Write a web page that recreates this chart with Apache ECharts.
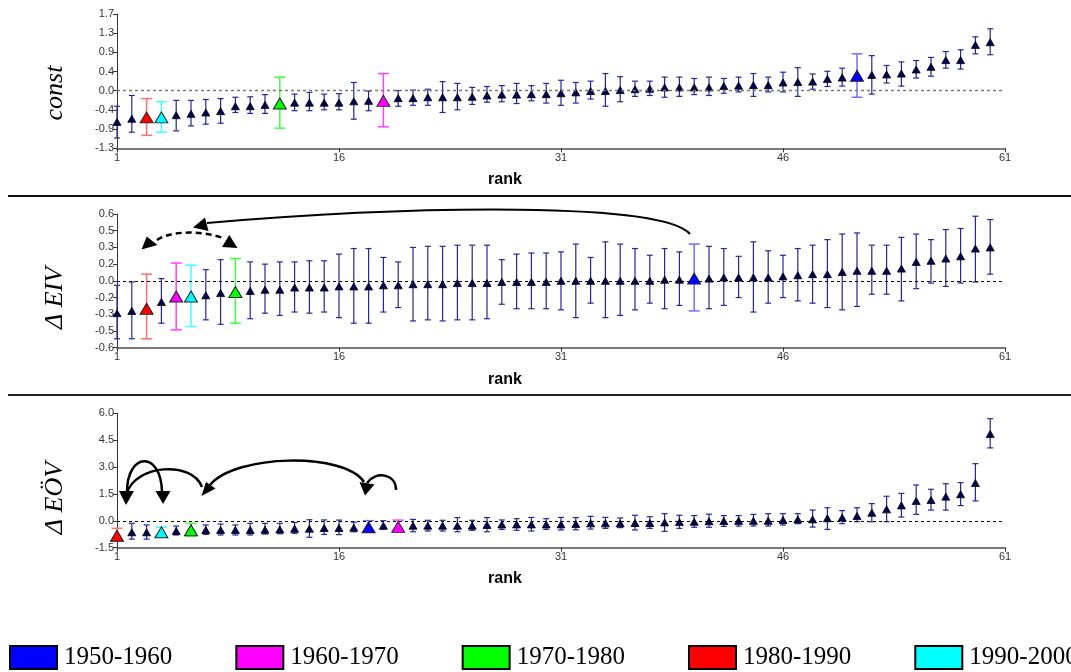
<!DOCTYPE html>
<html><head><meta charset="utf-8">
<script src="https://cdn.jsdelivr.net/npm/echarts@6/dist/echarts.min.js"></script>
<style>html,body{margin:0;padding:0;background:#fff}#c{width:1071px;height:672px}</style>
</head><body><div id="c"></div>
<script>
// ---------- data ----------
const ranks = [1,2,3,4,5,6,7,8,9,10,11,12,13,14,15,16,17,18,19,20,21,22,23,24,25,26,27,28,29,30,
  31,32,33,34,35,36,37,38,39,40,41,42,43,44,45,46,47,48,49,50,51,52,53,54,55,56,57,58,59,60];

const constMean = [-0.71,-0.64,-0.61,-0.61,-0.56,-0.53,-0.50,-0.47,-0.36,-0.36,-0.33,-0.30,-0.28,-0.28,-0.28,-0.28,-0.25,-0.24,-0.24,-0.18,
  -0.18,-0.16,-0.16,-0.16,-0.15,-0.12,-0.10,-0.10,-0.09,-0.09,-0.07,-0.05,-0.02,-0.02,0.00,0.02,0.03,0.06,0.06,0.06,
  0.06,0.09,0.10,0.11,0.11,0.17,0.18,0.19,0.25,0.28,0.32,0.34,0.35,0.37,0.46,0.52,0.67,0.67,1.01,1.07];
const constHigh = [-0.36,-0.12,-0.19,-0.26,-0.23,-0.23,-0.21,-0.19,-0.16,-0.15,-0.10,0.29,-0.09,-0.05,-0.09,-0.08,0.17,-0.02,0.37,-0.01,
  0.00,0.02,0.19,0.15,0.06,0.08,0.10,0.15,0.10,0.15,0.22,0.17,0.20,0.37,0.30,0.20,0.20,0.29,0.29,0.26,
  0.29,0.26,0.29,0.37,0.29,0.40,0.50,0.36,0.42,0.49,0.81,0.77,0.55,0.63,0.66,0.73,0.86,0.90,1.19,1.37];
const constLow = [-1.07,-0.94,-1.01,-0.94,-0.91,-0.80,-0.76,-0.74,-0.50,-0.52,-0.52,-0.85,-0.46,-0.46,-0.44,-0.44,-0.65,-0.46,-0.82,-0.36,
  -0.34,-0.34,-0.50,-0.44,-0.32,-0.27,-0.26,-0.30,-0.24,-0.29,-0.34,-0.29,-0.20,-0.36,-0.26,-0.14,-0.12,-0.16,-0.14,-0.10,
  -0.12,-0.07,-0.04,-0.14,-0.04,-0.04,-0.14,0.02,0.08,0.09,-0.16,-0.09,0.16,0.09,0.27,0.31,0.49,0.47,0.81,0.79];

const eivMean = [-0.29,-0.27,-0.25,-0.19,-0.14,-0.14,-0.13,-0.11,-0.10,-0.09,-0.08,-0.08,-0.06,-0.06,-0.06,-0.05,-0.05,-0.05,-0.04,-0.04,
  -0.03,-0.03,-0.03,-0.02,-0.02,-0.02,-0.01,-0.01,-0.01,-0.01,0.00,0.00,0.00,0.00,0.00,0.00,0.00,0.01,0.01,0.02,
  0.02,0.03,0.03,0.03,0.03,0.04,0.05,0.06,0.06,0.08,0.09,0.09,0.09,0.11,0.17,0.18,0.20,0.22,0.29,0.30];
const eivHigh = [-0.04,-0.01,0.06,0.02,0.16,0.14,0.10,0.19,0.20,0.17,0.15,0.17,0.17,0.18,0.18,0.24,0.29,0.29,0.21,0.17,
  0.30,0.31,0.31,0.32,0.32,0.32,0.19,0.24,0.25,0.25,0.26,0.33,0.21,0.35,0.33,0.29,0.23,0.29,0.26,0.33,
  0.31,0.29,0.22,0.35,0.27,0.23,0.29,0.32,0.37,0.42,0.43,0.32,0.32,0.39,0.42,0.37,0.46,0.47,0.58,0.55];
const eivLow = [-0.52,-0.52,-0.52,-0.38,-0.44,-0.41,-0.35,-0.39,-0.38,-0.34,-0.29,-0.31,-0.28,-0.29,-0.28,-0.33,-0.38,-0.38,-0.28,-0.24,
  -0.36,-0.35,-0.36,-0.35,-0.35,-0.34,-0.21,-0.25,-0.25,-0.25,-0.26,-0.33,-0.20,-0.33,-0.31,-0.26,-0.20,-0.25,-0.22,-0.27,
  -0.25,-0.22,-0.15,-0.28,-0.20,-0.15,-0.18,-0.20,-0.24,-0.26,-0.23,-0.12,-0.12,-0.18,-0.07,-0.02,-0.05,-0.02,-0.01,0.06];

const eovMean = [-0.83,-0.64,-0.64,-0.64,-0.57,-0.53,-0.51,-0.51,-0.51,-0.51,-0.50,-0.48,-0.44,-0.44,-0.40,-0.40,-0.38,-0.36,-0.27,-0.34,
  -0.27,-0.27,-0.27,-0.27,-0.27,-0.23,-0.20,-0.20,-0.20,-0.20,-0.20,-0.18,-0.14,-0.14,-0.14,-0.12,-0.12,-0.09,-0.07,-0.05,
  -0.03,-0.01,0.00,0.00,0.00,0.05,0.08,0.08,0.14,0.18,0.27,0.45,0.64,0.86,1.11,1.16,1.35,1.48,2.11,4.85];
const eovHigh = [-0.42,-0.14,-0.23,-0.36,-0.29,-0.14,-0.23,-0.18,-0.23,-0.14,-0.14,-0.14,-0.09,0.06,0.05,0.04,-0.07,0.01,0.01,0.04,
  0.08,0.03,0.03,0.18,0.03,0.18,0.05,0.12,0.19,0.12,0.19,0.18,0.25,0.19,0.16,0.31,0.23,0.40,0.31,0.29,
  0.37,0.29,0.29,0.36,0.40,0.40,0.40,0.60,0.73,0.57,0.73,0.96,1.37,1.53,2.00,1.76,2.07,2.13,3.19,5.70];
const eovLow = [-1.11,-1.02,-1.02,-0.89,-0.79,-0.85,-0.76,-0.79,-0.79,-0.79,-0.74,-0.72,-0.70,-0.92,-0.76,-0.77,-0.61,-0.61,-0.46,-0.55,
  -0.61,-0.57,-0.57,-0.61,-0.53,-0.61,-0.48,-0.53,-0.57,-0.48,-0.51,-0.50,-0.46,-0.42,-0.38,-0.51,-0.42,-0.59,-0.42,-0.36,
  -0.36,-0.31,-0.29,-0.29,-0.29,-0.23,-0.16,-0.35,-0.48,-0.16,-0.05,-0.05,-0.05,0.21,0.36,0.60,0.60,0.85,1.11,4.07];

// decades (legend) and the rank each decade holds in each panel
const decades = ['1950-1960','1960-1970','1970-1980','1980-1990','1990-2000'];
const decadeColors = ['#0000ff','#ff00ff','#00ff00','#ff0000','#00ffff'];
const decadeBarColors = ['#7070ff','#ff40ff','#40ff40','#ff7070','#40ffff'];
const constDecadeRanks = [51,19,12,3,4];
const eivDecadeRanks = [40,5,9,3,6];
const eovDecadeRanks = [18,20,6,1,4];

// axes ticks
const rankTicks = [1,16,31,46,61];
const constTickLabels = ['-1.3','-0.9','-0.4','0.0','0.4','0.9','1.3','1.7'];
const eivTickLabels = ['-0.6','-0.5','-0.3','-0.2','0.0','0.2','0.3','0.5','0.6'];
const eovTickLabels = ['-1.5','0.0','1.5','3.0','4.5','6.0'];
const constRange = [-1.3, 1.7];
const eivRange = [-0.6, 0.6];
const eovRange = [-1.5, 6.0];

const panelTitles = ['const','Δ EIV','Δ EÖV'];

// ---------- chart ----------
const panels = [
  {mean: constMean, low: constLow, high: constHigh, hl: constDecadeRanks, labels: constTickLabels, range: constRange, zeroColor: '#777'},
  {mean: eivMean, low: eivLow, high: eivHigh, hl: eivDecadeRanks, labels: eivTickLabels, range: eivRange, zeroColor: '#000'},
  {mean: eovMean, low: eovLow, high: eovHigh, hl: eovDecadeRanks, labels: eovTickLabels, range: eovRange, zeroColor: '#000'}
];
const gridTops = [14, 214, 413.3];
const gridHeights = [134.3, 133.7, 134.4];

const grids = [], xAxes = [], yAxes = [], series = [];
panels.forEach((p, i) => {
  grids.push({left: 117, right: 66, top: gridTops[i], height: gridHeights[i]});
  xAxes.push({
    type: 'value', gridIndex: i, min: 1, max: 61,
    axisLine: {onZero: false, lineStyle: {color: '#7a7a7a', width: 2}},
    axisTick: {customValues: rankTicks, length: 4, lineStyle: {color: '#333'}},
    axisLabel: {customValues: rankTicks, color: '#333', fontSize: 11, margin: 4, fontFamily: 'Liberation Sans'},
    splitLine: {show: false}
  });
  const n = p.labels.length;
  const step = (p.range[1] - p.range[0]) / (n - 1);
  const vals = p.labels.map((_, k) => p.range[0] + k * step);
  yAxes.push({
    type: 'value', gridIndex: i, min: p.range[0], max: p.range[1],
    axisLine: {show: true, onZero: false, lineStyle: {color: '#333', width: 1}},
    axisTick: {show: true, customValues: vals, length: 4, lineStyle: {color: '#333'}},
    axisLabel: {customValues: vals, color: '#333', fontSize: 11, margin: 3, fontFamily: 'Liberation Sans',
      formatter: v => p.labels[Math.round((v - p.range[0]) / step)]},
    splitLine: {show: false}
  });
  // error bars
  series.push({
    type: 'custom', xAxisIndex: i, yAxisIndex: i, silent: true, z: 2,
    data: ranks.map((r, k) => [r, p.low[k], p.high[k]]),
    encode: {x: 0, y: [1, 2]},
    renderItem: (params, api) => {
      const r = api.value(0);
      const lo = api.coord([r, api.value(1)]);
      const hi = api.coord([r, api.value(2)]);
      const d = p.hl.indexOf(r);
      const col = d >= 0 ? decadeBarColors[d] : '#26269a';
      const w = d >= 0 ? 5.5 : 3;
      const lw = d >= 0 ? 1.5 : 1.2;
      return {type: 'group', children: [
        {type: 'line', shape: {x1: lo[0], y1: lo[1], x2: hi[0], y2: hi[1]}, style: {stroke: col, lineWidth: lw}},
        {type: 'line', shape: {x1: lo[0] - w, y1: lo[1], x2: lo[0] + w, y2: lo[1]}, style: {stroke: col, lineWidth: lw}},
        {type: 'line', shape: {x1: hi[0] - w, y1: hi[1], x2: hi[0] + w, y2: hi[1]}, style: {stroke: col, lineWidth: lw}}
      ]};
    }
  });
  // regular means
  series.push({
    type: 'scatter', name: panelTitles[i], xAxisIndex: i, yAxisIndex: i, z: 3, silent: true,
    symbol: 'triangle', symbolSize: [8, 7],
    itemStyle: {color: '#000055', borderColor: '#000', borderWidth: 0.8, opacity: 1},
    data: ranks.filter(r => p.hl.indexOf(r) < 0).map(r => [r, p.mean[r - 1]]),
    markLine: {silent: true, symbol: 'none', label: {show: false},
      lineStyle: {type: [3, 3], color: p.zeroColor, width: i === 0 ? 1.4 : 1},
      data: [{yAxis: 0}]}
  });
  // decade highlights
  decades.forEach((name, d) => {
    const r = p.hl[d];
    series.push({
      type: 'scatter', name: name, xAxisIndex: i, yAxisIndex: i, z: 5, silent: true,
      symbol: 'triangle', symbolSize: [13, 11],
      itemStyle: {color: decadeColors[d], borderColor: '#222', borderWidth: 1, opacity: 1},
      data: [[r, p.mean[r - 1]]]
    });
  });
});

// annotations
const titleFont = 'italic 26px "Liberation Serif"';
const graphic = [
  {type: 'line', shape: {x1: 8, y1: 196, x2: 1071, y2: 196}, style: {stroke: '#111', lineWidth: 2}},
  {type: 'line', shape: {x1: 8, y1: 395, x2: 1071, y2: 395}, style: {stroke: '#222', lineWidth: 2}},
  ...[93, 298, 498].map((y, i) => ({type: 'text', x: 55, y: y, rotation: Math.PI / 2,
    style: {text: panelTitles[i], font: titleFont, fill: '#000', align: 'center', verticalAlign: 'middle'}})),
  ...[180, 380, 579].map(y => ({type: 'text', x: 505, y: y,
    style: {text: 'rank', font: '600 16px "Liberation Sans"', fill: '#000', align: 'center', verticalAlign: 'middle'}})),
  // panel 2 arrows
  {type: 'bezierCurve', shape: {x1: 690, y1: 234, cpx1: 662, cpy1: 202, cpx2: 420, cpy2: 205, x2: 207, y2: 223},
    style: {stroke: '#000', lineWidth: 2, fill: null}},
  {type: 'polygon', shape: {points: [[193, 227.5], [205, 217.5], [208.5, 231]]}, style: {fill: '#000'}},
  {type: 'bezierCurve', shape: {x1: 157, y1: 240, cpx1: 170, cpy1: 231, cpx2: 200, cpy2: 230, x2: 223, y2: 238},
    style: {stroke: '#000', lineWidth: 2.5, fill: null, lineDash: [6, 4]}},
  {type: 'polygon', shape: {points: [[141.5, 249.5], [146.7, 236.5], [157.5, 245]]}, style: {fill: '#000'}},
  {type: 'polygon', shape: {points: [[222, 247], [229.3, 235], [237.5, 248]]}, style: {fill: '#000'}},
  // panel 3 arrows
  {type: 'bezierCurve', shape: {x1: 127, y1: 492, cpx1: 127, cpy1: 452, cpx2: 161, cpy2: 450, x2: 162, y2: 492},
    style: {stroke: '#000', lineWidth: 2.5, fill: null}},
  {type: 'bezierCurve', shape: {x1: 127, y1: 493, cpx1: 135, cpy1: 465, cpx2: 192, cpy2: 460, x2: 202, y2: 487},
    style: {stroke: '#000', lineWidth: 2.5, fill: null}},
  {type: 'bezierCurve', shape: {x1: 364, y1: 482, cpx1: 345, cpy1: 452, cpx2: 235, cpy2: 454, x2: 210, y2: 485},
    style: {stroke: '#000', lineWidth: 2.5, fill: null}},
  {type: 'bezierCurve', shape: {x1: 396, y1: 490, cpx1: 396, cpy1: 473, cpx2: 375, cpy2: 471, x2: 367, y2: 483},
    style: {stroke: '#000', lineWidth: 2.5, fill: null}},
  {type: 'polygon', shape: {points: [[119, 491], [134, 491], [126, 505]]}, style: {fill: '#000'}},
  {type: 'polygon', shape: {points: [[155.5, 491], [170.5, 491], [163, 504]]}, style: {fill: '#000'}},
  {type: 'polygon', shape: {points: [[201.5, 496], [206, 482], [215.5, 488.5]]}, style: {fill: '#000'}},
  {type: 'polygon', shape: {points: [[359.5, 482], [374.5, 484.5], [365, 495.5]]}, style: {fill: '#000'}}
];

const chart = echarts.init(document.getElementById('c'), null, {renderer: 'canvas'});
chart.setOption({
  animation: false,
  backgroundColor: '#fff',
  grid: grids, xAxis: xAxes, yAxis: yAxes, series: series,
  legend: {
    data: decades, icon: 'rect', itemWidth: 47, itemHeight: 23, itemGap: 63,
    left: 9, top: 645, width: 1400, padding: 0, selectedMode: false,
    itemStyle: {borderColor: '#000', borderWidth: 2, opacity: 1},
    textStyle: {fontFamily: 'Liberation Serif', fontSize: 25, color: '#000', padding: [0, 0, 0, 2]}
  },
  graphic: graphic
});
</script>
</body></html>
